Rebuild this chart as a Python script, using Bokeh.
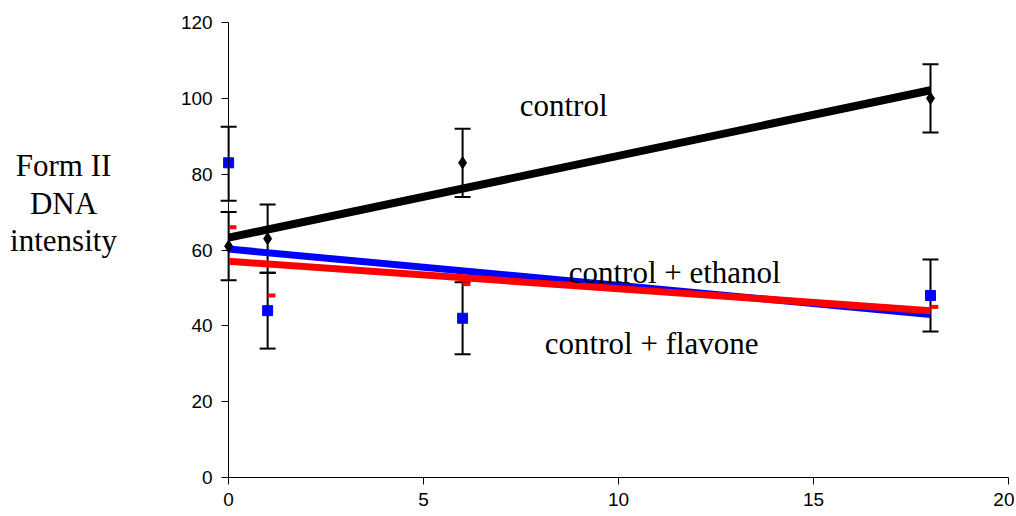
import numpy as np
from bokeh.plotting import figure
from bokeh.layouts import row
from bokeh.models import Whisker, ColumnDataSource, Label, FixedTicker, TeeHead, Range1d
from bokeh.core.properties import value
from bokeh.embed import file_html
from bokeh.resources import INLINE

# data
time_h = [0, 1, 6, 18]
control = [61, 63, 83, 100]
control_err_lo = [52, 54, 74, 91]
control_err_hi = [70, 72, 92, 109]
ethanol = [83, 44, 42, 48]
ethanol_err_lo = [73, 34, 32.5, 38.5]
ethanol_err_hi = [92.5, 54, 51.5, 57.5]
flavone = [66, 48, 51, 45]
x_ticks = [0, 5, 10, 15, 20]
y_ticks = [0, 20, 40, 60, 80, 100, 120]
ylabel_lines = ["Form II", "DNA", "intensity"]
series_names = ["control", "control + ethanol", "control + flavone"]

SERIF = "Liberation Serif"
W_LBL, W_MAIN, H = 122, 892, 514

# --- y-axis title panel ---
lab = figure(width=W_LBL, height=H, output_backend="svg", toolbar_location=None,
             x_axis_location=None, y_axis_location=None,
             x_range=Range1d(0, W_LBL), y_range=Range1d(H, 0), min_border=0)
lab.grid.visible = False
lab.outline_line_color = None
lab.text(x=[63, 63, 63], y=[158, 197, 235], text=ylabel_lines,
         text_font=value(SERIF), text_font_size="31px", text_color="black",
         text_align="center", text_baseline="alphabetic")

# --- main chart ---
p = figure(width=W_MAIN, height=H, output_backend="svg", toolbar_location=None,
           x_axis_location="above",
           x_range=Range1d(-1.491, 20.154), y_range=Range1d(-9.758, 123.165),
           min_border_left=48, min_border_right=0, min_border_top=10, min_border_bottom=0)
p.outline_line_color = None
p.xgrid.visible = False
p.ygrid.visible = False

for ax in (p.xaxis[0], p.yaxis[0]):
    ax.axis_line_color = "black"
    ax.axis_line_width = 1
    ax.major_tick_line_color = "black"
    ax.minor_tick_line_color = None
    ax.major_label_text_font = "Liberation Sans"
    ax.major_label_text_font_size = "19px"
    ax.major_label_text_color = "black"
p.xaxis.ticker = FixedTicker(ticks=x_ticks)
p.yaxis.ticker = FixedTicker(ticks=y_ticks)
p.xaxis.bounds = (x_ticks[0], x_ticks[-1])
p.yaxis.bounds = (y_ticks[0], y_ticks[-1])
p.yaxis.fixed_location = x_ticks[0]
p.xaxis.fixed_location = y_ticks[0]
p.yaxis.major_tick_in = 0
p.yaxis.major_tick_out = 7
p.yaxis.major_label_standoff = 9
p.xaxis.major_tick_in = 7
p.xaxis.major_tick_out = 0
p.xaxis.major_label_standoff = -28

t = np.array(time_h, dtype=float)

# error bars
for lo, hi in ((control_err_lo, control_err_hi), (ethanol_err_lo, ethanol_err_hi)):
    src = ColumnDataSource(dict(x=time_h, lo=lo, hi=hi))
    w = Whisker(base="x", lower="lo", upper="hi", source=src, line_color="black", line_width=2,
                upper_head=TeeHead(size=16, line_color="black", line_width=2),
                lower_head=TeeHead(size=16, line_color="black", line_width=2))
    p.add_layout(w)

# trend lines (linear fits)
xfit = np.array([float(time_h[0]), float(time_h[-1])])
for ys, col, lw in ((control, "black", 8), (ethanol, "blue", 7), (flavone, "red", 7)):
    m, b = np.polyfit(t, np.array(ys, dtype=float), 1)
    p.line(xfit, m * xfit + b, line_color=col, line_width=lw)

# markers
p.scatter(time_h, control, marker="diamond", size=12, color="black")
p.scatter(time_h, ethanol, marker="square", size=10, color="blue")
p.segment(x0=t, y0=flavone, x1=t + 0.2, y1=flavone, line_color="red", line_width=4)

# annotations
lbl_kw = dict(text_font=SERIF, text_font_size="31px", text_color="black",
              text_align="center", text_baseline="alphabetic")
p.add_layout(Label(x=8.59, y=98.2, text=series_names[0], **lbl_kw))
p.add_layout(Label(x=11.44, y=54.1, text=series_names[1], **lbl_kw))
p.add_layout(Label(x=10.85, y=35.4, text=series_names[2], **lbl_kw))

layout = row(lab, p, spacing=0)
open("out.html", "w").write(file_html(layout, INLINE))
